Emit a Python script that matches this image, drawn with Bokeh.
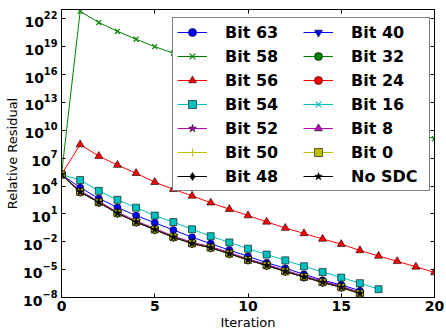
from bokeh.plotting import figure
from bokeh.models import (FixedTicker, LinearAxis, LogAxis, Legend, LegendItem,
                          CustomJSTickFormatter)
from bokeh.embed import file_html
from bokeh.resources import INLINE

# ---------------- data ----------------
iter_16 = [0, 1, 2, 3, 4, 5, 6, 7, 8, 9, 10, 11, 12, 13, 14, 15, 16]
iter_17 = [0, 1, 2, 3, 4, 5, 6, 7, 8, 9, 10, 11, 12, 13, 14, 15, 16, 17]
iter_20 = [0, 1, 2, 3, 4, 5, 6, 7, 8, 9, 10, 11, 12, 13, 14, 15, 16, 17, 18, 19, 20]

bit63 = [1.74e5, 6.8e3, 4.6e2, 50.0, 6.6, 1.1, 0.186, 3.1e-2, 6.3e-3, 1.26e-3,
         2.7e-4, 5.6e-5, 1.41e-5, 3.2e-6, 7.1e-7, 2.3e-7, 5.4e-8]
bit58 = [1.74e5, 6.3e22, 4.0e21, 4.5e20, 6.3e19, 1.0e19, 2.0e18, 4.0e17, 7.9e16,
         1.8e16, 4.0e15, 8.9e14, 2.0e14, 4.5e13, 1.0e13, 2.2e12, 5.0e11, 1.1e11,
         2.5e10, 5.6e9, 1.26e9]
bit56 = [1.74e5, 2.9e8, 1.66e7, 1.8e6, 2.4e5, 2.6e4, 4.5e3, 8.7e2, 1.58e2, 32.0,
         6.6, 1.4, 0.30, 7.9e-2, 2.0e-2, 5.5e-3, 1.17e-3, 2.95e-4, 7.9e-5, 2.0e-5, 5.0e-6]
bit54 = [1.74e5, 4.4e4, 3.0e3, 3.3e2, 47.0, 6.6, 1.32, 0.22, 4.0e-2, 8.5e-3,
         1.8e-3, 4.2e-4, 1.0e-4, 2.3e-5, 5.6e-6, 1.4e-6, 3.5e-7, 7.9e-8]
bit52 = [1.74e5, 3.0e3, 2.3e2, 15.5, 1.75, 0.27, 4.1e-2, 8.7e-3, 3.0e-3, 6.9e-4,
         1.45e-4, 3.7e-5, 8.5e-6, 2.1e-6, 5.8e-7, 1.66e-7, 3.5e-8]
# Bits 50, 48, 40, 32, 24, 16, 8, 0 and the fault-free run overlap in the picture
no_sdc = [1.74e5, 2.29e3, 1.74e2, 11.7, 1.32, 0.204, 3.09e-2, 6.6e-3, 2.29e-3,
          5.25e-4, 1.10e-4, 2.82e-5, 6.46e-6, 1.58e-6, 4.37e-7, 1.26e-7, 2.69e-8]
bit50 = no_sdc
bit48 = no_sdc
bit40 = no_sdc
bit32 = no_sdc
bit24 = no_sdc
bit16 = no_sdc
bit8 = no_sdc
bit0 = no_sdc

labels = ["Bit 63", "Bit 58", "Bit 56", "Bit 54", "Bit 52", "Bit 50", "Bit 48",
          "Bit 40", "Bit 32", "Bit 24", "Bit 16", "Bit 8", "Bit 0", "No SDC"]
xs = [iter_16, iter_20, iter_20, iter_17, iter_16, iter_16, iter_16,
      iter_16, iter_16, iter_16, iter_16, iter_16, iter_16, iter_16]
ys = [bit63, bit58, bit56, bit54, bit52, bit50, bit48,
      bit40, bit32, bit24, bit16, bit8, bit0, no_sdc]

x_ticks = [0, 5, 10, 15, 20]
y_ticks = [1e-8, 1e-5, 1e-2, 1e1, 1e4, 1e7, 1e10, 1e13, 1e16, 1e19, 1e22]

# ---------------- styles ----------------
B, G, R, C, M, Y, K = "#0000ff", "#008000", "#ff0000", "#00bfbf", "#bf00bf", "#bfbf00", "#000000"
styles = [
    (B, "circle", 7), (G, "x", 7), (R, "triangle", 8), (C, "square", 7),
    (M, "star", 9), (Y, "cross", 8), (K, "diamond", 8),
    (B, "inverted_triangle", 8), (G, "circle", 4), (R, "circle", 7),
    (C, "x", 7), (M, "triangle", 8), (Y, "square", 7), (K, "star", 8),
]

p = figure(width=446, height=332, x_range=(0, 20), y_range=(1e-8, 1e23),
           y_axis_type="log", output_backend="svg", toolbar_location=None,
           min_border_left=61, min_border_right=12, min_border_top=9,
           min_border_bottom=33)
p.background_fill_color = "white"
p.border_fill_color = "white"
p.outline_line_color = "black"
p.xgrid.visible = False
p.ygrid.visible = False

items = []
for lab, x, y, (col, mk, sz) in zip(labels, xs, ys, styles):
    ln = p.line(x, y, line_color=col, line_width=1)
    if mk in ("x", "cross"):
        sc = p.scatter(x, y, marker=mk, size=sz, line_color=col, line_width=1.2)
    else:
        sc = p.scatter(x, y, marker=mk, size=sz, fill_color=col,
                       line_color="black", line_width=0.6)
    items.append(LegendItem(label=lab, renderers=[ln, sc]))

font = "DejaVu Sans"
for ax in (p.xaxis[0], p.yaxis[0]):
    ax.major_label_text_font = font
    ax.major_label_text_font_style = "bold"
    ax.major_label_text_font_size = "14px"
    ax.major_label_text_color = "black"
    ax.major_tick_in = 4
    ax.major_tick_out = 0
    ax.minor_tick_in = 0
    ax.minor_tick_out = 0
    ax.axis_line_color = "black"
    ax.major_tick_line_color = "black"
    ax.axis_label_text_font = font
    ax.axis_label_text_font_style = "normal"
    ax.axis_label_text_font_size = "13px"
    ax.axis_label_text_color = "black"

p.xaxis.ticker = FixedTicker(ticks=x_ticks, minor_ticks=[])
p.yaxis.ticker = FixedTicker(ticks=y_ticks, minor_ticks=[])
p.xaxis.major_label_standoff = 3
p.yaxis.major_label_standoff = 4

p.yaxis.axis_label = "Relative Residual"
p.yaxis.axis_label_standoff = 0
p.xaxis.axis_label = "Iteration"
p.xaxis.axis_label_standoff = 1

top = LinearAxis(ticker=FixedTicker(ticks=x_ticks, minor_ticks=[]),
                 major_label_text_font_size="0px", major_label_standoff=0,
                 major_tick_in=4, major_tick_out=0, minor_tick_in=0, minor_tick_out=0,
                 formatter=CustomJSTickFormatter(code="return ''"))
right = LogAxis(ticker=FixedTicker(ticks=y_ticks, minor_ticks=[]),
                major_label_text_font_size="0px", major_label_standoff=0,
                major_tick_in=4, major_tick_out=0, minor_tick_in=0, minor_tick_out=0,
                formatter=CustomJSTickFormatter(code="return ''"))
p.add_layout(top, "above")
p.add_layout(right, "right")

legend = Legend(items=items, ncols=2, location=(111, 106),
                label_text_font=font, label_text_font_style="bold",
                label_text_font_size="16px", label_text_color="black",
                glyph_width=30, glyph_height=20, label_height=20, label_width=74,
                label_standoff=18, spacing=4, padding=4, margin=0,
                border_line_color="black", border_line_width=1,
                background_fill_color="white", background_fill_alpha=1.0)
p.add_layout(legend, "center")

open("out.html", "w").write(file_html(p, INLINE))
